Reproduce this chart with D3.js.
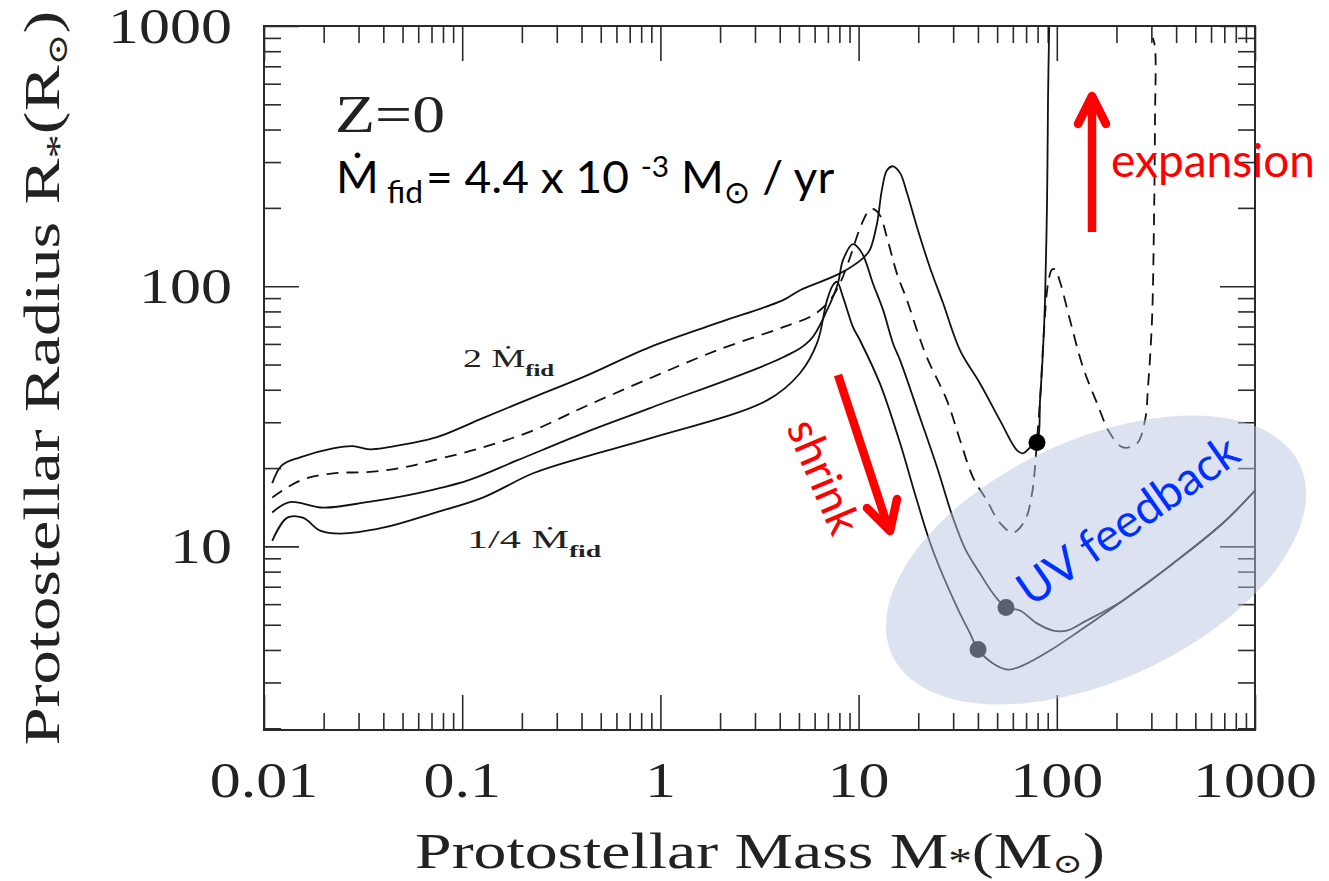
<!DOCTYPE html>
<html>
<head>
<meta charset="utf-8">
<script src="https://cdn.jsdelivr.net/npm/d3@7"></script>
<style>
  body { margin: 0; background: #fff; }
  svg { display: block; }
</style>
</head>
<body>
<svg id="chart" width="1329" height="881"></svg>
<script>
// ---------------- DATA (mass in Msun, radius in Rsun) ----------------
const massTicks = [0.01, 0.1, 1, 10, 100, 1000];
const massTickLabels = ["0.01", "0.1", "1", "10", "100", "1000"];
const radiusTicks = [10, 100, 1000];
const radiusTickLabels = ["10", "100", "1000"];

// 2 x fiducial accretion rate (top solid curve)
const twiceMdot = [
  [0.011, 17.5], [0.0123, 20.5], [0.0152, 22.0], [0.0223, 23.8], [0.0281, 24.3],
  [0.0343, 23.6], [0.0545, 24.9], [0.0746, 26.3], [0.127, 31.1], [0.228, 37.4],
  [0.407, 44.7], [0.886, 58.3], [1.93, 72.1], [4.16, 88.4], [5.06, 96.5],
  [8.06, 112], [10.5, 128], [11.4, 138], [12.4, 175], [13.1, 234], [13.9, 279],
  [14.9, 289], [16.2, 272], [17.55, 228], [19.7, 169], [22.9, 118], [26.7, 86.0],
  [32.5, 56.7], [41.0, 42.3], [51.7, 30.5], [63.0, 23.4], [67.5, 22.8], [73.3, 24.0],
  [79.45, 25.1], [82.3, 36.4], [85.2, 56.7], [87.2, 88.4], [89.3, 214], [90.3, 519],
  [91.5, 990]
];
// fiducial accretion rate (dashed curve)
const fiducialMdot = [
  [0.011, 15.4], [0.0152, 17.9], [0.0223, 19.1], [0.0331, 19.3], [0.0486, 20.0],
  [0.0712, 21.4], [0.127, 24.0], [0.228, 27.9], [0.407, 34.2], [0.886, 44.3],
  [1.93, 56.7], [4.16, 69.6], [5.89, 77.4], [7.17, 88.4], [8.06, 102.7],
  [9.05, 129], [10.16, 167], [11.15, 193], [11.8, 198], [12.8, 187.5], [13.9, 154],
  [15.6, 112], [17.55, 88.4], [19.7, 67.7], [22.1, 53.3], [27.9, 36.4], [32.5, 25.6],
  [37.8, 18.4], [44.4, 15.0], [51.7, 12.3], [60.1, 11.3], [69.1, 12.6], [75.0, 16.0],
  [77.6, 20.1], [79.45, 25.6], [82.3, 36.4], [86.2, 67.7], [90.3, 102], [94.6, 116],
  [98.0, 116], [103.8, 104], [116.6, 74.0], [135.6, 48.8], [159.6, 35.5], [185.5, 27.2],
  [215.8, 24.0], [253.9, 24.9], [278.6, 30.5], [288.5, 40.9], [302.2, 74.0],
  [309.3, 179], [312.9, 435], [312.9, 830], [305, 900]
];
// 1/2 x fiducial (third solid curve)
const halfMdot = [
  [0.011, 13.5], [0.0135, 14.8], [0.0199, 14.1], [0.0331, 14.8], [0.0591, 16.0],
  [0.106, 17.9], [0.189, 21.4], [0.407, 27.2], [0.886, 34.0], [4.16, 53.3],
  [5.69, 62.0], [6.93, 80.9], [7.87, 102.7], [8.34, 126], [9.37, 145], [10.4, 134],
  [11.8, 102.7], [13.3, 80.9], [14.9, 60.4], [16.2, 51.9], [20.4, 31.3], [24.9, 20.1],
  [29.9, 12.9], [34.8, 9.65], [41.0, 7.87], [47.7, 6.59], [55.4, 5.83], [65.2, 5.67],
  [79.45, 5.06], [95.7, 4.75], [112.6, 4.75], [138.8, 5.15], [215.8, 6.20],
  [385.8, 8.60], [689.7, 12.3], [1000, 16.4]
];
// 1/4 x fiducial (bottom solid curve)
const quarterMdot = [
  [0.011, 10.5], [0.0131, 12.9], [0.0157, 12.9], [0.0192, 11.5], [0.0242, 11.2],
  [0.0399, 11.8], [0.0712, 13.4], [0.127, 15.4], [0.228, 19.1], [0.407, 22.0],
  [0.886, 26.0], [3.45, 36.4], [5.06, 46.3], [6.17, 60.4], [6.93, 88.4], [7.43, 101],
  [7.78, 104], [8.34, 91], [9.37, 69.6], [10.16, 62.0], [12.8, 42.3], [16.2, 24.9],
  [19.7, 15.0], [23.7, 9.65], [31.4, 5.83], [36.5, 4.63], [40.05, 4.02], [47.7, 3.55],
  [56.7, 3.36], [67.5, 3.49], [92.4, 3.98], [130.9, 4.75], [215.8, 6.20],
  [385.8, 8.60], [689.7, 12.3], [1000, 16.4]
];
// onset of UV feedback markers
const feedbackPoints = [[79.45, 25.1], [55.4, 5.83], [40.05, 4.02]];

// ---------------- CHART ----------------
const svg = d3.select("#chart");
const plot = { left: 264, right: 1255, top: 26, bottom: 730 };
const x = d3.scaleLog().domain([0.01, 1000]).range([plot.left, plot.right]);
const y = d3.scaleLog().domain([1.97, 1000]).range([plot.bottom, plot.top]);

const SERIF = "'Liberation Serif', 'DejaVu Serif', serif";
const SANS = "Lato, 'DejaVu Sans', sans-serif";
const axisColor = "#2a2a2a";

svg.append("rect").attr("width", 1329).attr("height", 881).attr("fill", "#fff");

// clip
svg.append("clipPath").attr("id", "plotClip").append("rect")
  .attr("x", plot.left).attr("y", plot.top)
  .attr("width", plot.right - plot.left).attr("height", plot.bottom - plot.top);

// ticks
const isMajor = v => Math.abs(Math.log10(v) - Math.round(Math.log10(v))) < 1e-6;
const xMinor = x.ticks().filter(v => !isMajor(v));
const xMajor = x.ticks().filter(isMajor);
const yMinor = y.ticks().filter(v => !isMajor(v));
const yMajor = y.ticks().filter(isMajor);

function drawTicks(gen, tr, values, size) {
  svg.append("g").attr("transform", tr)
    .call(gen.tickValues(values).tickSize(size).tickFormat(""))
    .call(g => g.select(".domain").remove())
    .selectAll("line").attr("stroke", axisColor).attr("stroke-width", 1.6);
}
drawTicks(d3.axisBottom(x), `translate(0,${plot.bottom})`, xMinor, -17);
drawTicks(d3.axisBottom(x), `translate(0,${plot.bottom})`, xMajor, -35);
drawTicks(d3.axisTop(x), `translate(0,${plot.top})`, xMinor, -17);
drawTicks(d3.axisTop(x), `translate(0,${plot.top})`, xMajor, -35);
drawTicks(d3.axisLeft(y), `translate(${plot.left},0)`, yMinor, -17);
drawTicks(d3.axisLeft(y), `translate(${plot.left},0)`, yMajor, -35);
drawTicks(d3.axisRight(y), `translate(${plot.right},0)`, yMinor, -17);
drawTicks(d3.axisRight(y), `translate(${plot.right},0)`, yMajor, -35);

svg.append("rect")
  .attr("x", plot.left).attr("y", plot.top)
  .attr("width", plot.right - plot.left).attr("height", plot.bottom - plot.top)
  .attr("fill", "none").attr("stroke", axisColor).attr("stroke-width", 2);

// tick labels
const labelStretch = 1.24;
massTicks.forEach((v, i) => {
  svg.append("g").attr("transform", `translate(${x(v)},797) scale(${labelStretch},1)`)
    .append("text").attr("text-anchor", "middle")
    .attr("font-family", SERIF).attr("font-size", 50).attr("fill", "#222")
    .text(massTickLabels[i]);
});
radiusTicks.forEach((v, i) => {
  svg.append("g").attr("transform", `translate(232,${y(v)}) scale(${labelStretch},1)`)
    .append("text").attr("text-anchor", "end").attr("dy", "0.34em")
    .attr("font-family", SERIF).attr("font-size", 50).attr("fill", "#222")
    .text(radiusTickLabels[i]);
});

// helper: horizontally scaled text fitted to a target width
function fitted(tr, target, build, anchor, family, fill) {
  const g = svg.append("g");
  const t = g.append("text").attr("font-family", family || SERIF).attr("fill", fill || "#222")
    .attr("text-anchor", anchor || "start");
  build(t);
  const w = t.node().getBBox().width;
  g.attr("transform", `${tr} scale(${target / w},1)`);
  return g;
}

// axis titles
fitted("translate(760,868)", 690, t => {
  t.attr("font-size", 50);
  t.append("tspan").text("Protostellar Mass M");
  t.append("tspan").attr("font-size", 36).attr("dy", 5).text("*");
  t.append("tspan").attr("dy", -5).text("(M");
  t.append("tspan").attr("font-size", 28).attr("dy", 5).text("⊙");
  t.append("tspan").attr("dy", -5).text(")");
}, "middle");

fitted("translate(59,378) rotate(-90)", 735, t => {
  t.attr("font-size", 50);
  t.append("tspan").text("Protostellar Radius R");
  t.append("tspan").attr("font-size", 36).attr("dy", 12).text("*");
  t.append("tspan").attr("dy", -12).text("(R");
  t.append("tspan").attr("font-size", 28).attr("dy", 8).text("⊙");
  t.append("tspan").attr("dy", -8).text(")");
}, "middle");

// curves
const line = d3.line().x(d => x(d[0])).y(d => y(d[1])).curve(d3.curveCatmullRom.alpha(0.5));
const curves = svg.append("g").attr("clip-path", "url(#plotClip)");
[
  { data: twiceMdot, dash: null },
  { data: fiducialMdot, dash: "12,8" },
  { data: halfMdot, dash: null },
  { data: quarterMdot, dash: null }
].forEach(s => {
  curves.append("path").attr("d", line(s.data))
    .attr("fill", "none").attr("stroke", "#111").attr("stroke-width", 1.8)
    .attr("stroke-dasharray", s.dash);
});

// markers
svg.append("g").selectAll("circle").data(feedbackPoints).join("circle")
  .attr("cx", d => x(d[0])).attr("cy", d => y(d[1])).attr("r", 8.5).attr("fill", "#000");

// UV feedback ellipse (translucent overlay)
svg.append("ellipse").attr("transform", "translate(1096,560) rotate(-25)")
  .attr("rx", 225).attr("ry", 120)
  .attr("fill", "rgb(184,196,224)").attr("fill-opacity", 0.49);

// in-plot labels
fitted("translate(335,132)", 110, t => {
  t.attr("font-size", 52).text("Z=0");
});
fitted("translate(463,367)", 92, t => {
  t.attr("font-size", 26);
  t.append("tspan").text("2  Ṁ");
  t.append("tspan").attr("font-size", 17).attr("font-weight", "bold").attr("dy", 9).text("fid");
});
fitted("translate(467,548)", 135, t => {
  t.attr("font-size", 26);
  t.append("tspan").text("1/4  Ṁ");
  t.append("tspan").attr("font-size", 17).attr("font-weight", "bold").attr("dy", 9).text("fid");
});

fitted("translate(336,193)", 499, t => {
  t.attr("font-size", 45);
  t.append("tspan").text("Ṁ");
  t.append("tspan").attr("font-size", 31).attr("dy", 10).attr("dx", 8).text("fid");
  t.append("tspan").attr("dy", -10).attr("dx", 3).text("= 4.4 x 10 ");
  t.append("tspan").attr("font-size", 29).attr("dy", -16).text("-3");
  t.append("tspan").attr("dy", 16).text(" M");
  t.append("tspan").attr("font-size", 31).attr("dy", 10).text("⊙");
  t.append("tspan").attr("dy", -10).text(" / yr");
}, "start", SANS, "#000");

// expansion arrow
const red = "#ff0000";
svg.append("line").attr("x1", 1092).attr("y1", 232).attr("x2", 1092).attr("y2", 100)
  .attr("stroke", red).attr("stroke-width", 8.5);
svg.append("path").attr("d", "M1078,124 L1092,96 L1106,124")
  .attr("fill", "none").attr("stroke", red).attr("stroke-width", 8.5)
  .attr("stroke-linecap", "round").attr("stroke-linejoin", "round");
svg.append("text").attr("x", 1111).attr("y", 177)
  .attr("font-family", SANS).attr("font-size", 46).attr("fill", red).text("expansion");

// shrink arrow
svg.append("line").attr("x1", 838).attr("y1", 375).attr("x2", 888).attr("y2", 527)
  .attr("stroke", red).attr("stroke-width", 8.5);
svg.append("path").attr("d", "M867,508 L890,531 L897,499")
  .attr("fill", "none").attr("stroke", red).attr("stroke-width", 8.5)
  .attr("stroke-linecap", "round").attr("stroke-linejoin", "round");
svg.append("text").attr("transform", "translate(825,476) rotate(67)")
  .attr("text-anchor", "middle").attr("dominant-baseline", "central")
  .attr("font-family", SANS).attr("font-size", 45).attr("fill", red).text("shrink");

// UV feedback label
svg.append("text").attr("transform", "translate(1127,519) rotate(-35)")
  .attr("text-anchor", "middle").attr("dominant-baseline", "central")
  .attr("font-family", SANS).attr("font-size", 46).attr("fill", "#0030ff").text("UV feedback");
</script>
</body>
</html>
